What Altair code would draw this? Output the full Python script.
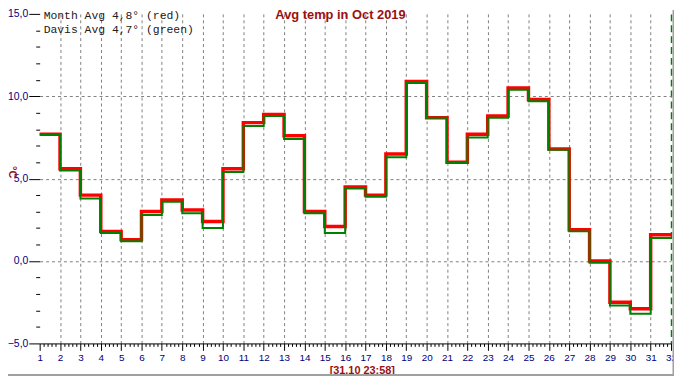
import altair as alt
import pandas as pd

# ---- data ----
days = list(range(1, 32))
red_values = [7.7, 5.6, 4.0, 1.8, 1.3, 3.0, 3.7, 3.1, 2.4, 5.6, 8.4, 8.9, 7.6, 3.0, 2.1,
              4.5, 4.0, 6.5, 10.9, 8.7, 6.0, 7.7, 8.8, 10.5, 9.8, 6.8, 1.9, 0.0, -2.5, -2.9, 1.6]
green_values = [7.7, 5.5, 3.8, 1.7, 1.2, 2.8, 3.6, 2.9, 2.0, 5.4, 8.2, 8.8, 7.4, 2.9, 1.7,
                4.4, 3.9, 6.3, 10.8, 8.7, 6.0, 7.5, 8.7, 10.4, 9.7, 6.75, 1.8, -0.1, -2.7, -3.2, 1.4]

title_text = "Avg temp in Oct 2019"
legend_lines = ["Month Avg 4,8° (red)", "Davis Avg 4,7° (green)"]
y_title = "°C"
footer_text = "[31.10 23:58]"

x_ticks = [round(i / 5, 1) for i in range(5, 161)]   # major every day, minor every 0.2 day
y_ticks = list(range(-5, 16))                          # major every 5, minor every 1

RED = "#ff0000"
GREEN = "#008000"
DARKRED = "#9b1010"
NAVY = "#000080"
TICK_FONT = "Liberation Sans Narrow, Arial Narrow, Liberation Sans, Arial"


def step_df(vals):
    return pd.DataFrame({"day": days + [days[-1] + 1], "temp": vals + [vals[-1]]})


x_axis = alt.Axis(
    values=x_ticks, tickCount=len(x_ticks) + 10, title=None,
    labelExpr="datum.value % 1 === 0 ? format(datum.value, 'd') : ''",
    labelOverlap=False, labelFlush=False,
    labelColor=NAVY, labelFont=TICK_FONT,
    labelFontSize=10, labelPadding=2,
    domain=True, domainColor="black", domainWidth=1,
    tickColor="black", tickWidth=1,
    tickSize={"condition": {"test": "datum.value % 1 === 0", "value": 7}, "value": 3},
    grid=True,
    gridColor={"condition": {"test": "datum.value === 32", "value": GREEN}, "value": "#808080"},
    gridDash={"condition": {"test": "datum.value === 32", "value": [7, 4]}, "value": [3, 3]},
    gridWidth={"condition": {"test": "datum.value === 32", "value": 1.5}, "value": 1},
    gridOpacity={"condition": {"test": "datum.value % 1 === 0 && datum.value > 1", "value": 1}, "value": 0},
)

y_axis = alt.Axis(
    values=y_ticks, tickCount=len(y_ticks) + 10, title=None,
    labelExpr="datum.value % 5 === 0 ? replace(format(datum.value, '.1f'), '.', ',') : ''",
    labelOverlap=False, labelFlush=False,
    labelColor=NAVY, labelFont=TICK_FONT,
    labelFontSize=10.5, labelPadding=1,
    domain=False,
    tickColor="black", tickWidth=1,
    tickSize={"condition": {"test": "datum.value % 5 === 0", "value": 11}, "value": 4},
    grid=True, gridColor="#808080", gridDash=[3, 3], gridWidth=1,
    gridOpacity={"condition": {"test": "datum.value % 5 === 0 && datum.value > -5 && datum.value < 15", "value": 1}, "value": 0},
)

x_enc = alt.X("day:Q", scale=alt.Scale(domain=[1, 32], nice=False, zero=False), axis=x_axis)
y_enc = alt.Y("temp:Q", scale=alt.Scale(domain=[-5, 15], nice=False, zero=False), axis=y_axis)

red_line = alt.Chart(step_df(red_values)).mark_line(
    interpolate="step-after", color=RED, strokeWidth=3.5
).encode(x=x_enc, y=y_enc)

green_line = alt.Chart(step_df(green_values)).mark_line(
    interpolate="step-after", color=GREEN, strokeWidth=2
).encode(x="day:Q", y="temp:Q")


def text_layer(txt, x, y, **kw):
    return alt.Chart(pd.DataFrame({"t": [txt]})).mark_text(**kw).encode(
        x=alt.value(x), y=alt.value(y), text="t:N")


title = text_layer(title_text, 304, 5, font="Liberation Sans, Arial", fontSize=13,
                   fontWeight="bold", color=DARKRED, align="center", baseline="alphabetic")
leg1 = text_layer(legend_lines[0], 4, 5, font="Liberation Mono, Courier New", fontSize=11.5,
                  color="#202020", align="left", baseline="alphabetic")
leg2 = text_layer(legend_lines[1], 4, 19, font="Liberation Mono, Courier New", fontSize=11.5,
                  color="#202020", align="left", baseline="alphabetic")
ylab = text_layer(y_title, -28, 160, font="Liberation Sans, Arial", fontSize=11,
                  fontWeight="bold", color=DARKRED, align="center", baseline="middle", angle=90)
footer = text_layer(footer_text, 326, 364, font="Liberation Sans, Arial", fontSize=11,
                    fontWeight="bold", color=DARKRED, align="center", baseline="alphabetic")

one = pd.DataFrame({"k": [0]})
border_right = alt.Chart(one).mark_rule(color="#a0a0a0", strokeWidth=2).encode(
    x=alt.value(640.5), y=alt.value(-4), y2=alt.value(366))
border_bottom = alt.Chart(one).mark_rule(color="#a0a0a0", strokeWidth=2).encode(
    x=alt.value(-32), x2=alt.value(641), y=alt.value(365))

chart = alt.layer(
    red_line, green_line, title, leg1, leg2, ylab, footer, border_right, border_bottom
).properties(
    width=638, height=333,
    autosize=alt.AutoSizeParams(type="none"),
    padding={"left": 32, "top": 4, "right": 3, "bottom": 33},
    background="white",
).configure_view(stroke=None)

chart.save("out.html", embed_options={"renderer": "svg", "actions": False})
